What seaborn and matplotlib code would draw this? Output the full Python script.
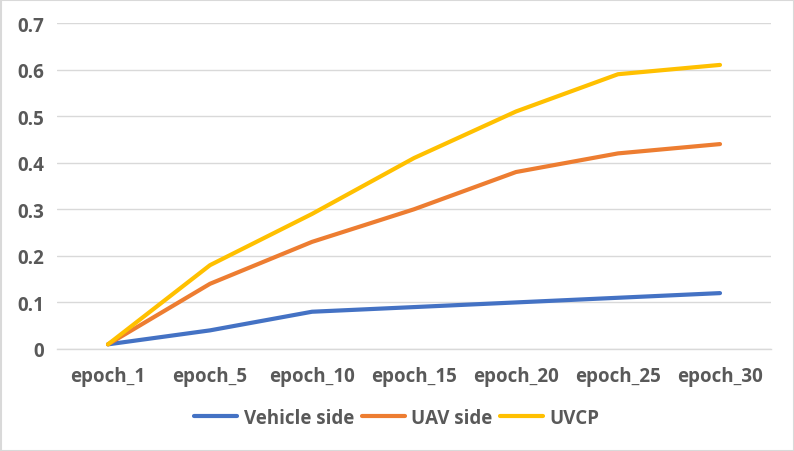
import matplotlib
matplotlib.use("Agg")
import matplotlib.pyplot as plt
import seaborn as sns
import pandas as pd
from matplotlib.patches import Rectangle
from matplotlib.lines import Line2D

epochs = ["epoch_1", "epoch_5", "epoch_10", "epoch_15", "epoch_20", "epoch_25", "epoch_30"]
vehicle_side = [0.01, 0.04, 0.08, 0.09, 0.10, 0.11, 0.12]
uav_side = [0.01, 0.14, 0.23, 0.30, 0.38, 0.42, 0.44]
uvcp = [0.01, 0.18, 0.29, 0.41, 0.51, 0.59, 0.61]
series_names = ["Vehicle side", "UAV side", "UVCP"]
colors = ["#4472C4", "#ED7D31", "#FFC000"]

rows = []
for name, vals in zip(series_names, [vehicle_side, uav_side, uvcp]):
    for e, v in zip(epochs, vals):
        rows.append({"epoch": e, "value": v, "series": name})
df = pd.DataFrame(rows)

sns.set_theme(style="white")
plt.rcParams["font.family"] = ["Open Sans", "DejaVu Sans"]

FS = 13.5
LW = 3.0

fig = plt.figure(figsize=(7.94, 4.52), dpi=100)
ax = fig.add_axes([57/794, 1-350/452, (771-57)/794, (350-24)/452])

sns.lineplot(data=df, x="epoch", y="value", hue="series", palette=colors,
             hue_order=series_names, sort=False, linewidth=LW, ax=ax, legend=False)
for ln in ax.lines:
    ln.set_solid_capstyle("round")

ax.set_xlim(-0.5, len(epochs) - 0.5)
ax.set_ylim(0, 0.7)
ax.set_yticks([0, 0.1, 0.2, 0.3, 0.4, 0.5, 0.6, 0.7])
ax.set_yticklabels(["0", "0.1", "0.2", "0.3", "0.4", "0.5", "0.6", "0.7"])
ax.yaxis.grid(True, color="#D9D9D9", linewidth=1)
ax.set_axisbelow(True)
for s in ["left", "right", "top"]:
    ax.spines[s].set_visible(False)
ax.spines["bottom"].set_color("#D9D9D9")
ax.spines["bottom"].set_linewidth(1)
ax.tick_params(axis="both", length=0, labelsize=FS, labelcolor="#595959")
ax.tick_params(axis="y", pad=9)
ax.tick_params(axis="x", pad=12)
for t in ax.get_xticklabels() + ax.get_yticklabels():
    t.set_fontweight("bold")
ax.set_xlabel("")
ax.set_ylabel("")

handles = [Line2D([0], [0], color=c, linewidth=LW, solid_capstyle="round") for c in colors]
leg = fig.legend(handles, series_names, loc="center", bbox_to_anchor=(0.5, 1-419/452),
                 ncol=3, frameon=False, handlelength=2.3, handletextpad=0.35,
                 columnspacing=0.4, prop={"weight": "bold", "size": FS})
for t in leg.get_texts():
    t.set_color("#595959")

fig.patches.append(Rectangle((0.5/794, 0.5/452), 1-1/794, 1-1/452, transform=fig.transFigure,
                             fill=False, edgecolor="#D9D9D9", linewidth=1.5))

fig.savefig("out.png", dpi=100)
